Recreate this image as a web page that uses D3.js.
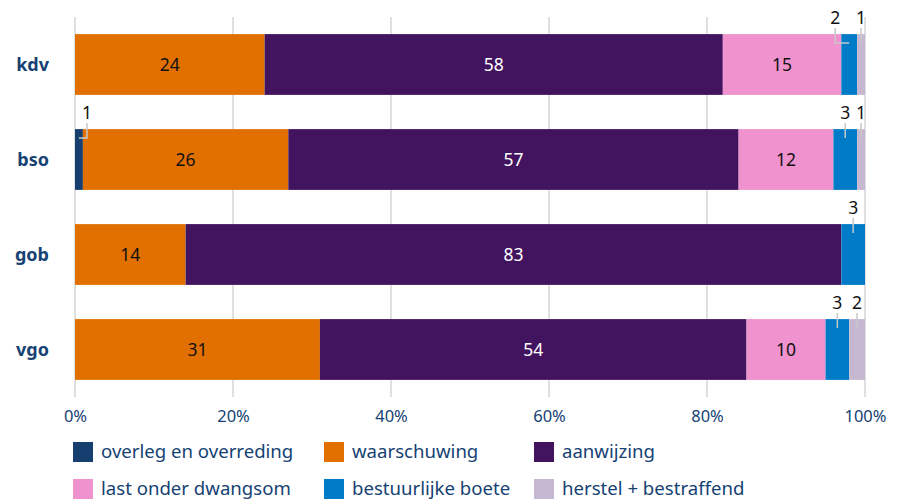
<!DOCTYPE html>
<meta charset="utf-8">
<html>
<head>
<style>
  body { margin: 0; background: #fff; }
  svg { display: block; font-family: "Noto Sans", sans-serif; }
</style>
</head>
<body>
<script src="https://d3js.org/d3.v7.js"></script>
<svg width="902" height="500"></svg>
<script>
  // categories and series
  var categories = ["kdv", "bso", "gob", "vgo"];
  var seriesNames = ["overleg en overreding", "waarschuwing", "aanwijzing",
                     "last onder dwangsom", "bestuurlijke boete", "herstel + bestraffend"];
  var seriesColors = ["#163f70", "#e17000", "#42145f", "#f092cd", "#007bc7", "#c6b8d1"];
  var labelColors = ["#fff", "#111", "#fff", "#111", "#fff", "#111"];

  // percentages per category, in series order
  var overleg      = [0, 1, 0, 0];
  var waarschuwing = [24, 26, 14, 31];
  var aanwijzing   = [58, 57, 83, 54];
  var dwangsom     = [15, 12, 0, 10];
  var boete        = [2, 3, 3, 3];
  var herstel      = [1, 1, 0, 2];

  var tickValues = [0, 20, 40, 60, 80, 100];

  var series = [overleg, waarschuwing, aanwijzing, dwangsom, boete, herstel];

  var rows = categories.map(function (c, i) {
    var row = { cat: c };
    seriesNames.forEach(function (s, j) { row[s] = series[j][i]; });
    return row;
  });

  var svg = d3.select("svg");

  var x = d3.scaleLinear().domain([0, 100]).range([75, 865]);
  var y = d3.scaleBand().domain(categories).range([17, 397])
      .paddingInner(0.36).paddingOuter(0.18);

  // grid lines
  svg.append("g").selectAll("line")
    .data(tickValues)
    .enter().append("line")
    .attr("x1", function (d) { return x(d); })
    .attr("x2", function (d) { return x(d); })
    .attr("y1", 17)
    .attr("y2", 397)
    .attr("stroke", "#d6d6d6")
    .attr("stroke-width", 1.5);

  var stacked = d3.stack().keys(seriesNames)(rows);

  var layers = svg.append("g").selectAll("g")
    .data(stacked)
    .enter().append("g")
    .attr("fill", function (d, i) { return seriesColors[i]; });

  layers.selectAll("rect")
    .data(function (d) { return d; })
    .enter().append("rect")
    .attr("x", function (d) { return x(d[0]); })
    .attr("y", function (d) { return y(d.data.cat); })
    .attr("width", function (d) { return x(d[1]) - x(d[0]); })
    .attr("height", y.bandwidth());

  // value labels
  var inside = [], outside = [];
  stacked.forEach(function (layer, i) {
    layer.forEach(function (d) {
      var v = d[1] - d[0];
      if (v <= 0) return;
      var item = { v: v, cx: x((d[0] + d[1]) / 2), cat: d.data.cat, i: i };
      if (v >= 5) inside.push(item); else outside.push(item);
    });
  });

  svg.append("g").selectAll("text")
    .data(inside)
    .enter().append("text")
    .attr("x", function (d) { return d.cx; })
    .attr("y", function (d) { return y(d.cat) + y.bandwidth() / 2; })
    .attr("dy", "0.35em")
    .attr("text-anchor", "middle")
    .attr("font-size", "17.5px")
    .attr("fill", function (d) { return labelColors[d.i]; })
    .text(function (d) { return d.v; });

  // small values go above the bar with a leader line; nudge when crowded
  categories.forEach(function (c) {
    var items = outside.filter(function (d) { return d.cat === c; });
    items.forEach(function (d, k) {
      d.lx = d.cx;
      if (d.lx < x(0) + 8) d.lx = d.cx + 8;
      var next = items[k + 1];
      if (next && next.cx - d.cx < 14) d.lx = d.cx - 14;
    });
  });

  var lg = svg.append("g");
  outside.forEach(function (d) {
    var top = y(d.cat);
    var base = top - 10;
    var tx = d.lx;
    lg.append("text")
      .attr("x", tx)
      .attr("y", base)
      .attr("text-anchor", "middle")
      .attr("font-size", "17.5px")
      .attr("fill", "#111")
      .text(d.v);
    var pts = [[tx, base + 4], [tx, top + 9]];
    if (tx !== d.cx) pts.push([d.cx, top + 9]);
    lg.append("path")
      .attr("d", d3.line()(pts))
      .attr("fill", "none")
      .attr("stroke", "#c8c8c8")
      .attr("stroke-width", 1.5);
  });

  // category labels
  svg.append("g").selectAll("text")
    .data(categories)
    .enter().append("text")
    .attr("x", 49)
    .attr("y", function (d) { return y(d) + y.bandwidth() / 2; })
    .attr("dy", "0.35em")
    .attr("text-anchor", "end")
    .attr("font-size", "18px")
    .attr("font-weight", "bold")
    .attr("fill", "#154273")
    .text(function (d) { return d; });

  // x axis labels
  var axis = svg.append("g")
    .attr("transform", "translate(0,397)")
    .call(d3.axisBottom(x).tickValues(tickValues)
      .tickFormat(function (d) { return d + "%"; }).tickSize(0).tickPadding(13));
  axis.select(".domain").remove();
  axis.selectAll("text")
    .attr("font-size", "16.5px")
    .attr("font-family", "Noto Sans, sans-serif")
    .attr("fill", "#154273");

  // legend
  var legendX = [73, 324, 534];
  var legend = svg.append("g").selectAll("g")
    .data(seriesNames)
    .enter().append("g")
    .attr("transform", function (d, i) {
      return "translate(" + legendX[i % 3] + "," + (442 + Math.floor(i / 3) * 37) + ")";
    });
  legend.append("rect")
    .attr("width", 20)
    .attr("height", 20)
    .attr("fill", function (d, i) { return seriesColors[i]; });
  legend.append("text")
    .attr("x", 28)
    .attr("y", 16)
    .attr("font-size", "18.6px")
    .attr("fill", "#154273")
    .text(function (d) { return d; });
</script>
</body>
</html>
